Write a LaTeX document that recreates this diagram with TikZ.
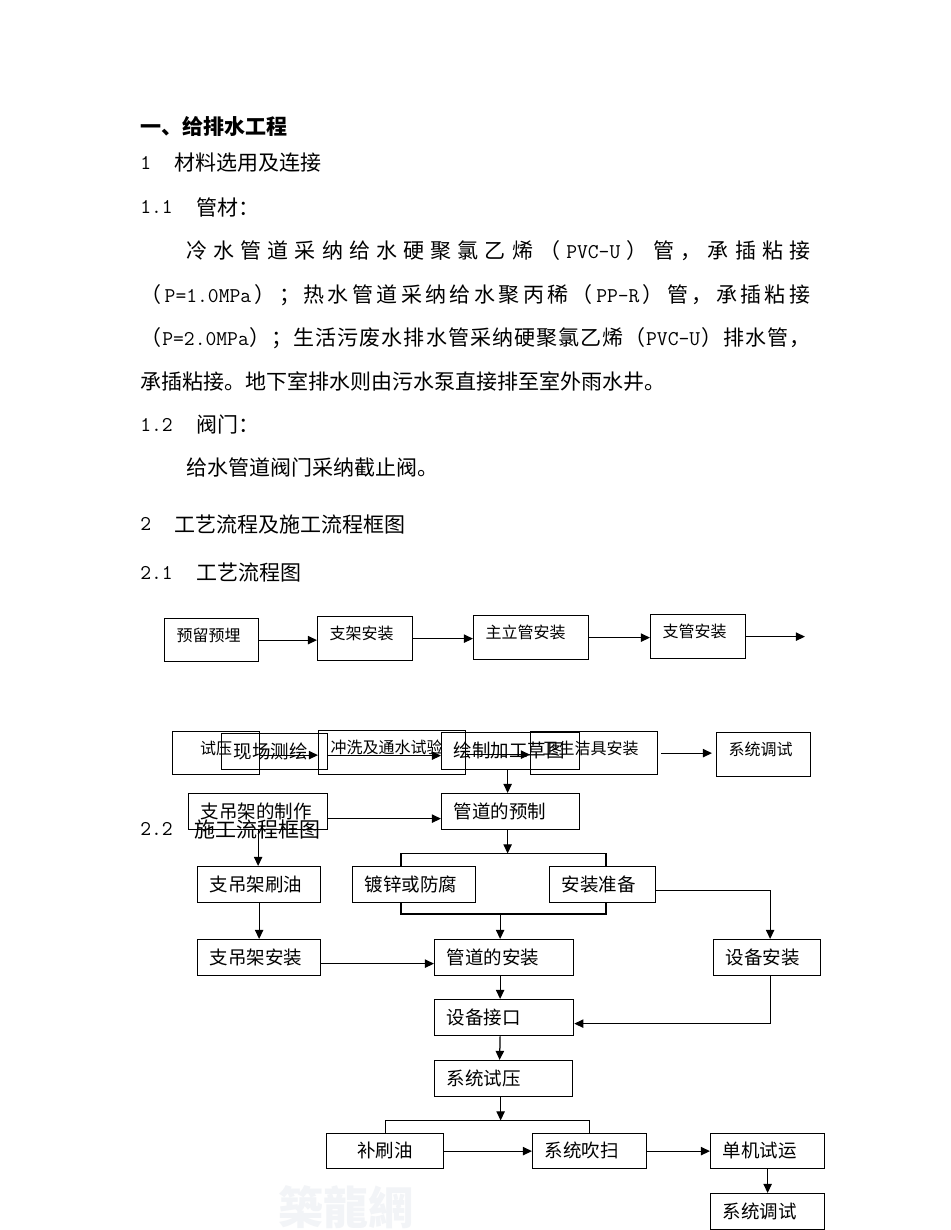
\documentclass[tikz,border=0pt]{standalone}
\usepackage{fontspec}
\setmainfont{Noto Sans CJK SC}
\usetikzlibrary{calc,arrows.meta}

\newdimen\pxd \pxd=0.6pt
\newcommand\bodyfont{\fontsize{12.6pt}{15pt}\selectfont}
\newcommand\boxafont{\fontsize{9.6pt}{11pt}\selectfont}
\newcommand\boxbfont{\fontsize{11.1pt}{13pt}\selectfont}
\newcommand\ascii[1]{{\ttfamily #1}}
\definecolor{markgray}{RGB}{242,244,247}

\tikzset{
  body/.style={anchor=west, inner sep=0pt, font=\bodyfont},
  boxcommon/.style={draw, line width=0.75pt, anchor=north west, align=left,
    inner xsep=7.2pt, inner ysep=0pt},
  % old process chart: small text, set high in the box
  boxa/.code 2 args={%
    \pgfmathsetlengthmacro\boxtw{(#1-24)*0.6pt}%
    \pgfmathsetlengthmacro\boxht{#2*0.6pt}%
    \pgfkeysalso{boxcommon, font=\boxafont, text width=\boxtw,
      minimum height=\boxht, text height=5.8pt, text depth=4.5pt}},
  % construction chart
  boxb/.code 2 args={%
    \pgfmathsetlengthmacro\boxtw{(#1-24)*0.6pt}%
    \pgfmathsetlengthmacro\boxht{#2*0.6pt}%
    \pgfkeysalso{boxcommon, font=\boxbfont, text width=\boxtw,
      minimum height=\boxht, text height=8.9pt, text depth=1.1pt}},
  arr/.style={line width=0.75pt, -{Triangle[length=5.5pt,width=5pt]}},
  link/.style={line width=0.75pt},
}

\begin{document}
\begin{tikzpicture}[x=0.6pt, y=-0.6pt]
  \useasboundingbox (0,0) rectangle (950,1230);
  \fill[white] (0,0) rectangle (950,1230);

  % watermark
  \node[body, font=\fontsize{27pt}{30pt}\selectfont\bfseries, text=markgray] (mark) at (278,1207) {築龍網};

  % text
  \node[body, font=\bodyfont\bfseries] (h1) at (140,126) {一、给排水工程};
  \node[body] (n1) at (140,163) {\ascii{1}};
  \node[body] (t1) at (174,163) {材料选用及连接};
  \node[body] (n11) at (140,207) {\ascii{1.1}};
  \node[body] (t11) at (196,207) {管材：};
  \node[body] (p1) at (186,251) {\hbox to 624\pxd{冷\hfill 水\hfill 管\hfill 道\hfill 采\hfill 纳\hfill 给\hfill 水\hfill 硬\hfill 聚\hfill 氯\hfill 乙\hfill 烯\hfill （\hfill \ascii{PVC-U}\hfill ）\hfill 管\hfill ，\hfill 承\hfill 插\hfill 粘\hfill 接}};
  \node[body] (p2) at (140,295) {\hbox to 670\pxd{（\hfill \ascii{P=1.0MPa}\hfill ）\hfill ；\hfill 热\hfill 水\hfill 管\hfill 道\hfill 采\hfill 纳\hfill 给\hfill 水\hfill 聚\hfill 丙\hfill 稀\hfill （\hfill \ascii{PP-R}\hfill ）\hfill 管\hfill ，\hfill 承\hfill 插\hfill 粘\hfill 接}};
  \node[body] (p3) at (140,338) {\hbox to 670\pxd{（\hfill \ascii{P=2.0MPa}\hfill ）\hfill ；\hfill 生\hfill 活\hfill 污\hfill 废\hfill 水\hfill 排\hfill 水\hfill 管\hfill 采\hfill 纳\hfill 硬\hfill 聚\hfill 氯\hfill 乙\hfill 烯\hfill （\hfill \ascii{PVC-U}\hfill ）\hfill 排\hfill 水\hfill 管\hfill ，}};
  \node[body] (p4) at (140,382) {承插粘接。地下室排水则由污水泵直接排至室外雨水井。};
  \node[body] (n12) at (140,425) {\ascii{1.2}};
  \node[body] (t12) at (196,425) {阀门：};
  \node[body] (p5) at (186,468) {给水管道阀门采纳截止阀。};
  \node[body] (n2) at (140,524) {\ascii{2}};
  \node[body] (t2) at (174,524) {工艺流程及施工流程框图};
  \node[body] (n21) at (140,573) {\ascii{2.1}};
  \node[body] (t21) at (196,573) {工艺流程图};
  \node[body] (n22) at (140,829) {\ascii{2.2}};
  \node[body] (t22) at (194,829) {施工流程框图};

  % process chart
  \node[boxa={94}{43}] (pre) at (164,618) {预留预埋};
  \node[boxa={95}{44}] (brk) at (317,616) {支架安装};
  \node[boxa={115}{44}] (riser) at (473,615) {主立管安装};
  \node[boxa={95}{44}] (branch) at (650,614) {支管安装};
  \coordinate (enda) at (805,637);
  \node[boxa={87}{43}, align=center] (test) at (172,731) {试压};
  \node[boxa={147}{44}] (flush) at (318,730) {冲洗及通水试验};
  \node[boxa={127}{43}] (fixt) at (530,731) {卫生洁具安装};
  \node[boxa={94}{44}] (tunea) at (716,732) {系统调试};

  \draw[arr] (pre.east) -- (pre.east -| brk.west);
  \draw[arr] (brk.east) -- (brk.east -| riser.west);
  \draw[arr] (riser.east) -- (riser.east -| branch.west);
  \draw[arr] (branch.east) -- (branch.east -| enda);
  \draw[arr] ($(test.east)+(0,2)$) -- ($(test.east -| flush.west)+(0,2)$);
  \draw[arr] ($(flush.east)+(0,2)$) -- ($(flush.east -| fixt.west)+(0,2)$);
  \draw[arr] ($(fixt.east)+(3,0)$) -- ($(fixt.east -| tunea.west)+(-4,0)$);

  % construction chart
  \node[boxb={106}{36}] (survey) at (221,733) {现场测绘};
  \node[boxb={138}{37}] (sketch) at (441,732) {绘制加工草图};
  \node[boxb={139}{36}] (hang) at (188,793) {支吊架的制作};
  \node[boxb={138}{36}] (prefab) at (441,793) {管道的预制};
  \node[boxb={123}{36}] (paint) at (197,866) {支吊架刷油};
  \node[boxb={123}{36}] (galv) at (352,866) {镀锌或防腐};
  \node[boxb={106}{36}] (prep) at (549,866) {安装准备};
  \node[boxb={123}{36}] (hangin) at (197,939) {支吊架安装};
  \node[boxb={139}{36}] (pipe) at (434,939) {管道的安装};
  \node[boxb={107}{36}] (equip) at (713,939) {设备安装};
  \node[boxb={139}{36}] (conn) at (434,999) {设备接口};
  \node[boxb={138}{36}] (press) at (434,1060) {系统试压};
  \node[boxb={117}{35}, align=center] (touch) at (326,1133) {补刷油};
  \node[boxb={114}{35}] (blow) at (532,1133) {系统吹扫};
  \node[boxb={114}{35}] (run) at (710,1133) {单机试运};
  \node[boxb={114}{36}] (tuneb) at (710,1193) {系统调试};

  \coordinate (ba) at (401,853.5);
  \coordinate (bb) at (606,853.5);
  \coordinate (bc) at (401,914);
  \coordinate (bd) at (606,914);
  \coordinate (be) at (385,1120.5);

  \draw[arr] ($(survey.east)+(0,4)$) -- ($(survey.east -| sketch.west)+(0,4)$);
  \draw[arr] ($(sketch.south)+(-3,0)$) -- ($(prefab.north)+(-3,0)$);
  \draw[arr] ($(hang.east)+(0,7)$) -- ($(hang.east -| prefab.west)+(0,7)$);
  \draw[arr] (hang.south) -- (hang.south |- paint.north);
  % fork to galvanising and preparation
  \draw[arr] ($(prefab.south)+(-3,0)$) -- ($(prefab.south |- ba)+(-3,0)$);
  \draw[link] (galv.north -| ba) -- (ba) -- (bb) -- (prep.north -| bb);
  \draw[link] (galv.south -| bc) -- (bc) -- (bd) -- (prep.south -| bd);
  \draw[arr] ($(pipe.north |- bc)+(-4,0)$) -- ($(pipe.north)+(-4,0)$);
  \draw[arr] ($(prep.east)+(0,6)$) -| ($(equip.north)+(3,0)$);
  \draw[arr] (paint) -- (hangin);
  \draw[arr] ($(hangin.east)+(0,6)$) -- ($(hangin.east -| pipe.west)+(0,6)$);
  \draw[arr] ($(pipe.south)+(-4,0)$) -- ($(conn.north)+(-4,0)$);
  \draw[arr] ($(equip.south)+(3,0)$) |- ($(conn.east)+(0,6)$);
  \draw[arr] ($(conn.south)+(-4,0)$) -- ($(press.north)+(-4,0)$);
  % fork to touch-up and blowing
  \draw[arr] ($(press.south)+(-3,0)$) -- ($(press.south |- be)+(-3,0)$);
  \draw[link] (touch.north) -- (touch.north |- be) -- (blow.north |- be) -- (blow.north);
  \draw[arr] (touch) -- (blow);
  \draw[arr] (blow) -- (run);
  \draw[arr] (run) -- (tuneb);
\end{tikzpicture}
\end{document}
